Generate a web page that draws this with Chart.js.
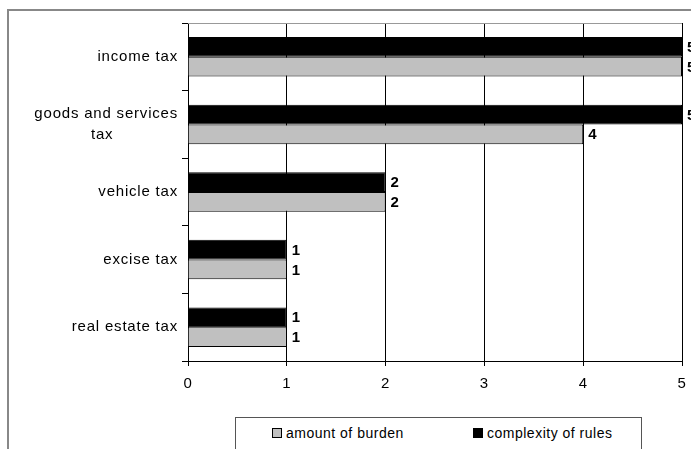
<!DOCTYPE html>
<html>
<head>
<meta charset="utf-8">
<script src="https://cdn.jsdelivr.net/npm/chart.js@4/dist/chart.umd.min.js"></script>
<style>
  html, body { margin: 0; padding: 0; background: #fff; }
  #wrap { position: relative; width: 691px; height: 449px; overflow: hidden; }
  #chart { position: absolute; left: 0; top: 0; }
  #legend {
    position: absolute; left: 235px; top: 417px; width: 407px; height: 60px;
    border: 1px solid #555; background: #fff; box-sizing: border-box;
  }
  .item {
    position: absolute; top: 7px; font: 14px "Liberation Sans", Arial, sans-serif;
    letter-spacing: 0.5px; color: #000; white-space: nowrap; line-height: 17px;
  }
  .sw {
    display: inline-block; width: 8px; height: 8px; border: 1px solid #000;
    margin-right: 4px; vertical-align: 0px;
  }
</style>
</head>
<body>
<div id="wrap">
  <canvas id="chart" width="691" height="449"></canvas>
  <div id="legend">
    <span class="item" style="left:36px"><span class="sw" style="background:#c0c0c0"></span>amount of burden</span>
    <span class="item" style="left:237px"><span class="sw" style="background:#000"></span>complexity of rules</span>
  </div>
</div>
<script>
// Tax types, top to bottom
const categories = [
  'income tax',
  ['goods and services', 'tax\u00a0\u00a0\u00a0\u00a0\u00a0\u00a0\u00a0\u00a0\u00a0\u00a0\u00a0\u00a0\u00a0'],
  'vehicle tax',
  'excise tax',
  'real estate tax'
];
const complexityOfRules = [5, 5, 2, 1, 1];
const amountOfBurden = [5, 4, 2, 1, 1];
const xTicks = [0, 1, 2, 3, 4, 5];

const FONT = '"Liberation Sans", Arial, sans-serif';

// Canvas text spacing (reset whenever the canvas is resized)
const spacing = {
  id: 'spacing',
  beforeUpdate(chart) { chart.ctx.letterSpacing = '0.8px'; },
  beforeDraw(chart) { chart.ctx.letterSpacing = '0.8px'; }
};

// Outer frame and plot-area top edge
const frame = {
  id: 'frame',
  beforeDraw(chart) {
    const ctx = chart.ctx;
    ctx.save();
    ctx.strokeStyle = '#888';
    ctx.lineWidth = 2;
    ctx.beginPath();
    ctx.moveTo(8, 460);
    ctx.lineTo(8, 10);
    ctx.lineTo(700, 10);
    ctx.stroke();
    ctx.restore();
  },
  afterDraw(chart) {
    const { ctx, chartArea: a } = chart;
    ctx.save();
    ctx.strokeStyle = '#999';
    ctx.lineWidth = 1;
    ctx.beginPath();
    ctx.moveTo(a.left, a.top + 0.5);
    ctx.lineTo(a.right, a.top + 0.5);
    ctx.stroke();
    ctx.restore();
  }
};

// Value labels at the end of each bar
const valueLabels = {
  id: 'valueLabels',
  afterDatasetsDraw(chart) {
    const ctx = chart.ctx;
    ctx.save();
    ctx.font = 'bold 15px ' + FONT;
    ctx.fillStyle = '#000';
    ctx.textAlign = 'left';
    ctx.textBaseline = 'middle';
    chart.data.datasets.forEach((ds, i) => {
      chart.getDatasetMeta(i).data.forEach((bar, j) => {
        ctx.fillText(String(ds.data[j]), bar.x + 5, bar.y + 1);
      });
    });
    ctx.restore();
  }
};

new Chart(document.getElementById('chart'), {
  type: 'bar',
  data: {
    labels: categories,
    datasets: [
      {
        label: 'complexity of rules',
        data: complexityOfRules,
        backgroundColor: '#000',
        borderColor: '#000',
        borderWidth: 1,
        categoryPercentage: 0.584,
        barPercentage: 1
      },
      {
        label: 'amount of burden',
        data: amountOfBurden,
        backgroundColor: '#c0c0c0',
        borderColor: '#000',
        borderWidth: 1,
        categoryPercentage: 0.584,
        barPercentage: 1
      }
    ]
  },
  options: {
    indexAxis: 'y',
    responsive: false,
    devicePixelRatio: 1,
    animation: false,
    layout: { padding: { left: 0, right: 9, top: 23, bottom: 0 } },
    plugins: {
      legend: { display: false },
      tooltip: { enabled: false }
    },
    scales: {
      x: {
        min: 0,
        max: 5,
        afterBuildTicks(scale) { scale.ticks = xTicks.map(v => ({ value: v })); },
        afterFit(scale) { scale.height = 88; scale.paddingLeft = 0; scale.paddingRight = 0; },
        grid: { color: '#000', lineWidth: 1, tickLength: 5, drawTicks: true },
        border: { color: '#000', width: 1 },
        ticks: { color: '#000', padding: 9, font: { family: FONT, size: 15 } }
      },
      y: {
        afterFit(scale) { scale.width = 188; scale.paddingTop = 0; scale.paddingBottom = 0; },
        grid: { drawOnChartArea: false, drawTicks: true, tickLength: 6, color: '#000', offset: true },
        border: { color: '#000', width: 1 },
        ticks: { color: '#000', padding: 4, font: { family: FONT, size: 15, lineHeight: 1.45 } }
      }
    }
  },
  plugins: [spacing, frame, valueLabels]
});
</script>
</body>
</html>
